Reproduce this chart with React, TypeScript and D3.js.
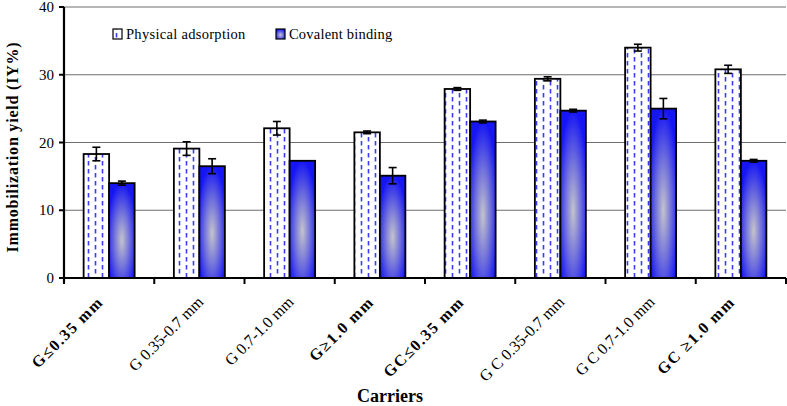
import React, { useEffect, useRef } from 'react';
import * as d3 from 'd3';

const carriers = [
  'G≤0.35 mm', 'G 0.35-0.7 mm', 'G 0.7-1.0 mm', 'G≥1.0 mm',
  'GC≤0.35 mm', 'G C 0.35-0.7 mm', 'G C 0.7-1.0 mm', 'GC ≥1.0 mm',
];
const boldLabels = [true, false, false, true, true, false, false, true];
const physical = [18.3, 19.1, 22.1, 21.5, 27.9, 29.4, 34.0, 30.8];
const physicalErr = [1.0, 1.0, 1.0, 0.2, 0.2, 0.3, 0.5, 0.6];
const covalent = [14.0, 16.5, 17.3, 15.1, 23.1, 24.7, 25.0, 17.3];
const covalentErr = [0.3, 1.1, 0, 1.2, 0.2, 0.2, 1.5, 0.2];
const yTicks = [0, 10, 20, 30, 40];

const W = 787, H = 406;
const left = 64, right = 786, top = 7, bottom = 278;
const font = '"Liberation Serif", "Times New Roman", serif';

const App = () => {
  const labelRef = useRef<SVGGElement>(null);
  const x = d3.scaleBand<string>().domain(carriers).range([left, right]);
  const y = d3.scaleLinear().domain([0, 40]).range([bottom, top]);
  const bw = 25.5;
  const pad = (x.bandwidth() - 2 * bw) / 2;

  useEffect(() => {
    // rotated category labels
    const g = d3.select(labelRef.current);
    g.selectAll('*').remove();
    g.selectAll('text')
      .data(carriers)
      .enter()
      .append('text')
      .text((d) => d)
      .attr('transform', (d, i) => {
        const cx = (x(d) as number) + x.bandwidth() / 2 + (boldLabels[i] ? -5 : 5);
        return `translate(${cx},${bottom + 25}) rotate(-45)`;
      })
      .attr('text-anchor', 'end')
      .attr('font-family', font)
      .attr('font-size', 16)
      .attr('letter-spacing', (d, i) => (boldLabels[i] ? 1.5 : 0))
      .attr('font-weight', (d, i) => (boldLabels[i] ? 'bold' : 'normal'));
  }, []);

  const errBar = (cx: number, v: number, e: number, key: string) => {
    if (e <= 0) return null;
    const y1 = y(v + e), y2 = y(v - e);
    return (
      <g key={key} stroke="#000" strokeWidth={1.6}>
        <line x1={cx} x2={cx} y1={y1} y2={y2} />
        <line x1={cx - 4} x2={cx + 4} y1={y1} y2={y1} />
        <line x1={cx - 4} x2={cx + 4} y1={y2} y2={y2} />
      </g>
    );
  };

  return (
    <svg width={W} height={H} style={{ position: 'absolute', left: 0, top: 0, background: '#fff' }}>
      <defs>
        <pattern id="dash" patternUnits="userSpaceOnUse" width={14} height={16} x={1} y={0}>
          <rect width={14} height={16} fill="#fff" />
          <line x1={3.5} x2={3.5} y1={1} y2={5.5} stroke="#3b3bf5" strokeWidth={1.6} />
          <line x1={3.5} x2={3.5} y1={9} y2={13.5} stroke="#3b3bf5" strokeWidth={1.6} />
          <line x1={10.5} x2={10.5} y1={-3} y2={1.5} stroke="#3b3bf5" strokeWidth={1.6} />
          <line x1={10.5} x2={10.5} y1={5} y2={9.5} stroke="#3b3bf5" strokeWidth={1.6} />
          <line x1={10.5} x2={10.5} y1={13} y2={17.5} stroke="#3b3bf5" strokeWidth={1.6} />
        </pattern>
        <radialGradient id="blueGrad" cx="0.5" cy="0.6" r="0.6">
          <stop offset="0" stopColor="#c4c4cc" />
          <stop offset="0.5" stopColor="#7070dc" />
          <stop offset="1" stopColor="#1616f4" />
        </radialGradient>
      </defs>

      {/* gridlines */}
      {yTicks.slice(1).map((t) => (
        <line key={t} x1={left} x2={right} y1={y(t)} y2={y(t)} stroke="#6e6e6e" strokeWidth={1.2} />
      ))}

      {/* bars */}
      {carriers.map((c, i) => {
        const x0 = (x(c) as number) + pad;
        return (
          <g key={c}>
            <rect x={x0} y={y(physical[i])} width={bw} height={bottom - y(physical[i])}
              fill="url(#dash)" stroke="#000" strokeWidth={1.8} />
            <rect x={x0 + bw} y={y(covalent[i])} width={bw} height={bottom - y(covalent[i])}
              fill="url(#blueGrad)" stroke="#000" strokeWidth={1.8} />
            {errBar(x0 + bw / 2, physical[i], physicalErr[i], 'pe')}
            {errBar(x0 + bw * 1.5, covalent[i], covalentErr[i], 'ce')}
          </g>
        );
      })}

      {/* axes */}
      <line x1={left} x2={left} y1={top} y2={bottom + 5} stroke="#000" strokeWidth={2.2} />
      <line x1={left} x2={right} y1={bottom} y2={bottom} stroke="#000" strokeWidth={2.2} />
      {yTicks.map((t) => (
        <g key={t}>
          <line x1={left - 5} x2={left} y1={y(t)} y2={y(t)} stroke="#000" strokeWidth={2} />
          <text x={left - 10} y={y(t) + 5} textAnchor="end" fontFamily={font} fontSize={15}>{t}</text>
        </g>
      ))}
      {carriers.map((c) => (
        <line key={c} x1={x(c) as number} x2={x(c) as number} y1={bottom} y2={bottom + 6} stroke="#000" strokeWidth={2} />
      ))}
      <line x1={right} x2={right} y1={bottom} y2={bottom + 6} stroke="#000" strokeWidth={2} />

      {/* x labels, rotated */}
      <g ref={labelRef} />

      {/* axis titles */}
      <text x={390} y={402} textAnchor="middle" fontFamily={font} fontSize={18} fontWeight="bold">Carriers</text>
      <g transform="translate(18, 147) rotate(-90)">
        <text x={0} y={0} textAnchor="middle" fontFamily={font} fontSize={16} fontWeight="bold"
          letterSpacing={0.8}>Immobilization yield (IY%)</text>
      </g>

      {/* legend */}
      <rect x={113} y={29} width={9} height={10} fill="url(#dash)" stroke="#000" strokeWidth={1.2} />
      <text x={126} y={39} fontFamily={font} fontSize={14.5} letterSpacing={0.3}>Physical adsorption</text>
      <rect x={276} y={29} width={9} height={10} fill="url(#blueGrad)" stroke="#000" strokeWidth={1.2} />
      <text x={289} y={39} fontFamily={font} fontSize={14.5} letterSpacing={0.2}>Covalent binding</text>
    </svg>
  );
};

export default App;
